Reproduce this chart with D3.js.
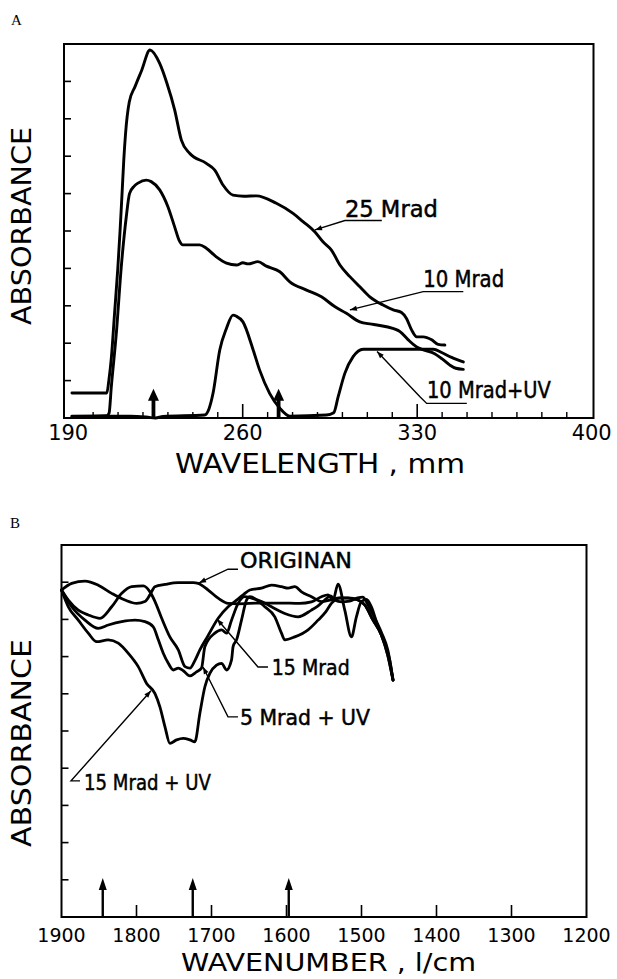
<!DOCTYPE html>
<html><head><meta charset="utf-8">
<script src="https://cdn.jsdelivr.net/npm/d3@7"></script>
<style>html,body{margin:0;padding:0;background:#fff;} svg{display:block;}</style>
</head><body>
<svg id="chart" width="617" height="979"></svg>
<script>
// ---------------- Panel A data (wavelength nm, absorbance units) ----------------
const aTickLabels = [190, 260, 330, 400];
const aMajorTicks = [260, 330];
const aMinorTicks = [200,210,220,230,240,250,270,280,290,300,310,320,340,350,360,370,380,390];
const aYTicks = [1,2,3,4,5,6,7,8,9];

const mrad25 = [[191.5,0.67],[205.5,0.67],[206.3,1.0],[207.3,1.6],[208.6,2.8],[209.9,4.0],[210.8,5.0],[211.6,6.0],[212.3,6.9],[213.0,7.6],[214.5,8.45],[216.8,8.86],[219.5,9.30],[222.8,9.84],[226.7,9.48],[229.6,8.95],[232.7,8.24],[235.4,7.43],[238.7,7.08],[245.4,6.81],[248.8,6.63],[252.1,6.23],[256.1,5.96],[260.5,5.93],[265.5,5.94],[273.5,5.74],[280.2,5.47],[284.2,5.25],[288.9,4.98],[292.2,4.71],[295.6,4.49],[299.0,4.09],[303.0,3.78],[307.0,3.51],[311.0,3.24],[316.3,3.02],[320.4,2.89],[323.7,2.82],[325.7,2.66],[327.8,2.35],[329.8,2.17],[332.4,2.17],[335.8,2.09],[338.4,1.97],[341.1,1.95]];
const mrad10 = [[191.5,0.04],[205.5,0.06],[206.4,0.13],[207.3,0.84],[209.3,2.26],[211.3,4.05],[213.3,5.38],[214.6,6.0],[216.5,6.2],[218.0,6.28],[221.3,6.36],[223.3,6.32],[226.7,6.10],[230.0,5.65],[232.7,5.11],[234.5,4.75],[236.0,4.63],[242.7,4.63],[245.4,4.54],[249.4,4.31],[253.5,4.14],[257.5,4.09],[260.1,4.15],[262.1,4.12],[266.1,4.18],[269.5,4.06],[274.9,3.91],[278.9,3.64],[285.6,3.42],[291.6,3.24],[296.9,2.98],[301.6,2.80],[307.0,2.57],[311.7,2.51],[317.7,2.44],[323.1,2.31],[326.4,2.09],[329.8,1.90],[333.5,1.80],[337.0,1.72],[340.0,1.58],[343.0,1.42],[345.5,1.33],[348.5,1.30]];
const mrad10uv = [[191.5,0.05],[215,0.05],[222,0.02],[225,0.0],[228,0.04],[244.7,0.08],[246.5,0.25],[248.1,0.66],[250.8,1.82],[253.5,2.40],[256.1,2.75],[257.5,2.72],[260.1,2.57],[264.2,1.82],[266.8,1.28],[270.8,0.66],[274.9,0.26],[278.9,0.05],[293.6,0.08],[296.5,0.14],[298.3,0.57],[301.0,1.20],[304.3,1.64],[308.3,1.84],[336.5,1.84],[339.8,1.75],[343.8,1.62],[348.5,1.50]];
const aArrowsX = [224.2, 274.4];
const aArrowTip = 0.78;
const aLabels = [
  {text:"25 Mrad", at:[301.0,5.38], len:93, leader:[[315.8,5.28],[301.0,5.28],[289.0,5.03]]},
  {text:"10 Mrad", at:[332.4,3.51], len:81, leader:[[348.5,3.38],[332.4,3.38],[303.0,2.89]]},
  {text:"10 Mrad+UV", at:[333.9,0.53], len:124, leader:[[349.9,0.39],[333.8,0.39],[331.1,0.57],[313.9,1.78]]}
];

// ---------------- Panel B data (wavenumber 1/cm, absorbance units) ----------------
const bTickLabels = [1900,1800,1700,1600,1500,1400,1300,1200];
const bTicks = [1800,1700,1600,1500,1400,1300];
const bYTicks = [1,2,3,4,5,6,7,8,9];

const originan = [[1900,8.79],[1886.4,8.97],[1868.7,9.03],[1851.0,8.92],[1833.1,8.70],[1815.4,8.52],[1799.8,8.43],[1788.8,8.48],[1782.1,8.66],[1775.5,8.88],[1762.1,8.94],[1744.4,8.99],[1724.4,8.99],[1717.8,8.97],[1704.4,8.79],[1691.1,8.57],[1677.8,8.43],[1664.5,8.42],[1635.6,8.44],[1609,8.44],[1582.4,8.43],[1566.7,8.47],[1553.4,8.61],[1544.6,8.66],[1537.9,8.52],[1531.3,8.95],[1522.3,8.25],[1513.4,7.53],[1506.8,8.07],[1500.1,8.48],[1493.4,8.54],[1486.8,8.34],[1478.0,7.80],[1469.1,7.36],[1462.4,6.91],[1458,6.37]];
const mrad15 = [[1900,8.79],[1890.9,8.52],[1877.6,8.25],[1864.3,8.12],[1848.7,8.03],[1833.1,8.34],[1819.7,8.70],[1806.4,8.88],[1791.0,8.90],[1782.0,8.74],[1775.3,8.48],[1766.4,8.03],[1755.5,7.53],[1744.3,7.18],[1735.3,6.73],[1728.7,6.69],[1722,6.9],[1715.5,7.18],[1705,7.55],[1691.1,8.03],[1677.8,8.34],[1668.9,8.48],[1657.8,8.66],[1648.9,8.79],[1633.3,8.84],[1620.0,8.92],[1606.7,8.88],[1597.9,8.84],[1589.0,8.88],[1580.0,8.74],[1566.7,8.61],[1553.4,8.48],[1542.3,8.52],[1529.0,8.58],[1517.9,8.58],[1504.6,8.52],[1495.7,8.39],[1484.6,7.98],[1473.5,7.58],[1465,7.04],[1458,6.37]];
const mrad5uv = [[1900,8.79],[1886.4,8.34],[1868.7,7.98],[1851,7.76],[1837.6,7.85],[1819.7,7.94],[1802,7.98],[1788.7,7.94],[1777.6,7.80],[1770.9,7.45],[1764.3,7.09],[1757.6,6.82],[1750.9,6.64],[1744.3,6.69],[1737.6,6.62],[1728.8,6.48],[1720,6.59],[1713.3,6.69],[1708.8,7.27],[1695.6,7.63],[1686.6,7.72],[1679.9,7.63],[1673.3,7.98],[1664.5,8.43],[1655.6,8.61],[1646.6,8.57],[1633.3,8.48],[1620,8.34],[1602.3,8.16],[1584.5,8.07],[1566.7,8.25],[1558.3,8.36],[1549,8.52],[1541,8.63],[1535.7,8.52],[1526.3,8.47],[1516,8.49],[1505,8.58],[1498.4,8.6],[1491.7,8.41],[1482.4,8.04],[1473,7.63],[1465,7.18],[1458,6.37]];
const mrad15uv = [[1900,8.79],[1890.9,8.34],[1877.6,7.98],[1864.3,7.63],[1853.1,7.40],[1837.7,7.45],[1824.3,7.36],[1811.0,7.09],[1797.7,6.73],[1786.5,6.28],[1775.5,6.01],[1768.8,5.65],[1762.1,5.12],[1755.5,4.67],[1746.5,4.76],[1737.8,4.80],[1728.8,4.76],[1722.2,4.71],[1715.5,5.48],[1708.8,6.19],[1702.2,6.55],[1693.3,6.77],[1686.6,6.82],[1679.9,6.64],[1673.3,6.91],[1671.2,7.27],[1666.6,7.45],[1660.0,7.98],[1653.3,8.52],[1648.9,8.61],[1629.0,8.34],[1615.6,8.07],[1606.7,7.63],[1602.3,7.45],[1589.0,7.53],[1571.2,7.72],[1557.9,7.98],[1547.7,8.2],[1540.1,8.43],[1529,8.57],[1517.9,8.57],[1504.6,8.52],[1495.7,8.39],[1484.6,7.98],[1473.5,7.58],[1465,7.04],[1458,6.37]];
const bArrowsX = [1845, 1725, 1597];
const bArrowTip = 1.05;
const bLabels = [
  {text:"ORIGINAN", at:[1662,9.38], len:112, leader:[[1664.7,9.35],[1678,9.35],[1716.7,8.98]]},
  {text:"15 Mrad", at:[1619.7,6.51], len:78, leader:[[1624.7,6.72],[1638,6.72],[1692.7,8.01]]},
  {text:"5 Mrad + UV", at:[1662,5.16], len:130, leader:[[1664.7,5.38],[1678,5.38],[1711.3,6.72]]},
  {text:"15 Mrad + UV", at:[1870,3.41], len:127, leader:[[1875.3,3.66],[1887.3,3.66],[1780.7,6.08]]}
];

// ---------------- Drawing ----------------
const svg = d3.select("#chart");
svg.append("rect").attr("width",617).attr("height",979).attr("fill","#fff");
const SANS = "DejaVu Sans, Verdana, sans-serif";

function headAt(g, tip, from, len, half){
  const dx = tip[0]-from[0], dy = tip[1]-from[1];
  const L = Math.hypot(dx,dy) || 1;
  const ux = dx/L, uy = dy/L;
  const bx = tip[0]-ux*len, by = tip[1]-uy*len;
  const px = -uy*half, py = ux*half;
  g.append("path").attr("d",`M${tip[0]},${tip[1]}L${bx+px},${by+py}L${bx-px},${by-py}Z`).attr("fill","#000");
}

function panel(cfg){
  const g = svg.append("g");
  const x = cfg.x, y = cfg.y;
  const [x0,x1] = cfg.frameX, [yb,yt] = y.range();
  g.append("rect").attr("x",x0).attr("y",yt).attr("width",x1-x0).attr("height",yb-yt)
    .attr("fill","none").attr("stroke","#000").attr("stroke-width",2);
  g.selectAll(".yt").data(cfg.yTicks).join("line")
    .attr("x1",x0).attr("x2",x0+7).attr("y1",d=>y(d)).attr("y2",d=>y(d))
    .attr("stroke","#000").attr("stroke-width",1.6);
  g.selectAll(".xmaj").data(cfg.majorTicks).join("line")
    .attr("x1",d=>x(d)).attr("x2",d=>x(d)).attr("y1",yb).attr("y2",yb-cfg.majorLen)
    .attr("stroke","#000").attr("stroke-width",1.6);
  g.selectAll(".xmin").data(cfg.minorTicks).join("line")
    .attr("x1",d=>x(d)).attr("x2",d=>x(d)).attr("y1",yb).attr("y2",yb-6)
    .attr("stroke","#000").attr("stroke-width",1.4);
  g.selectAll(".xl").data(cfg.tickLabels).join("text")
    .attr("x",d=>x(d)).attr("y",cfg.tickLabelY).attr("text-anchor","middle")
    .attr("font-family",SANS).attr("font-size",cfg.tickFont).attr("fill","#000")
    .text(d=>d);
  g.append("text").attr("x",cfg.xTitle.cx).attr("y",cfg.xTitle.y).attr("text-anchor","middle")
    .attr("font-family",SANS).attr("font-size",cfg.xTitle.size)
    .attr("textLength",cfg.xTitle.len).attr("lengthAdjust","spacingAndGlyphs").text(cfg.xTitle.text);
  g.append("text").attr("transform",`translate(${cfg.yTitle.x},${cfg.yTitle.cy}) rotate(-90)`)
    .attr("text-anchor","middle").attr("font-family",SANS).attr("font-size",cfg.yTitle.size)
    .attr("textLength",cfg.yTitle.len).attr("lengthAdjust","spacingAndGlyphs").text("ABSORBANCE");
  g.append("text").attr("x",cfg.letter.x).attr("y",cfg.letter.y)
    .attr("font-family","Liberation Serif, Times New Roman, serif").attr("font-size",15).text(cfg.letter.text);
  const line = d3.line().x(d=>x(d[0])).y(d=>y(d[1])).curve(d3.curveMonotoneX);
  cfg.series.forEach(s=>{
    g.append("path").attr("d",line(s)).attr("fill","none").attr("stroke","#000")
      .attr("stroke-width",cfg.curveW).attr("stroke-linejoin","round").attr("stroke-linecap","round");
  });
  cfg.arrows.forEach(a=>{
    const tip=[x(a), y(cfg.arrowTip)], base=[x(a), y(0)];
    g.append("line").attr("x1",base[0]).attr("x2",base[0]).attr("y1",base[1]).attr("y2",tip[1]+cfg.arrowHead[0]-1)
      .attr("stroke","#000").attr("stroke-width",cfg.arrowShaft);
    headAt(g, tip, base, cfg.arrowHead[0], cfg.arrowHead[1]);
  });
  const lin = d3.line().x(d=>x(d[0])).y(d=>y(d[1]));
  cfg.labels.forEach(l=>{
    g.append("path").attr("d",lin(l.leader)).attr("fill","none").attr("stroke","#000").attr("stroke-width",1.4);
    const n=l.leader.length, tip=[x(l.leader[n-1][0]),y(l.leader[n-1][1])], prev=[x(l.leader[n-2][0]),y(l.leader[n-2][1])];
    headAt(g, tip, prev, 7, 2.6);
    g.append("text").attr("x",x(l.at[0])).attr("y",y(l.at[1]))
      .attr("font-family",SANS).attr("font-size",cfg.labelFont)
      .attr("stroke","#000").attr("stroke-width",0.5)
      .attr("textLength",l.len).attr("lengthAdjust","spacingAndGlyphs").text(l.text);
  });
}

panel({
  x: d3.scaleLinear().domain([190,400]).range([68.2,591.7]),
  y: d3.scaleLinear().domain([0,10]).range([418,44]),
  frameX:[64,593.5],
  yTicks:aYTicks, majorTicks:aMajorTicks, minorTicks:aMinorTicks, majorLen:14,
  tickLabels:aTickLabels, tickLabelY:440, tickFont:21,
  xTitle:{text:"WAVELENGTH , mm", cx:320, y:473, size:26, len:290},
  yTitle:{x:31, cy:226, size:27, len:198},
  letter:{text:"A", x:11, y:25},
  series:[mrad25, mrad10, mrad10uv], curveW:2.9,
  arrows:aArrowsX, arrowTip:aArrowTip, arrowShaft:3.8, arrowHead:[12,5.5],
  labels:aLabels, labelFont:23
});

panel({
  x: d3.scaleLinear().domain([1900,1200]).range([61.5,586.5]),
  y: d3.scaleLinear().domain([0,10]).range([917,545]),
  frameX:[61.5,586.5],
  yTicks:bYTicks, majorTicks:bTicks, minorTicks:[], majorLen:12,
  tickLabels:bTickLabels, tickLabelY:942, tickFont:19,
  xTitle:{text:"WAVENUMBER , l/cm", cx:328.5, y:971, size:25, len:295},
  yTitle:{x:31, cy:743, size:27, len:208},
  letter:{text:"B", x:10, y:528},
  series:[originan, mrad15, mrad5uv, mrad15uv], curveW:2.8,
  arrows:bArrowsX, arrowTip:bArrowTip, arrowShaft:2.4, arrowHead:[12,4],
  labels:bLabels, labelFont:22
});
</script></body></html>
